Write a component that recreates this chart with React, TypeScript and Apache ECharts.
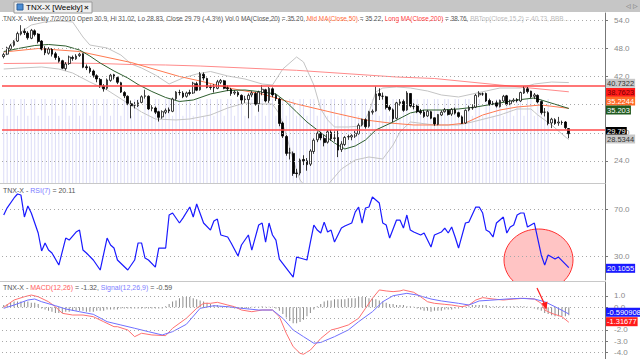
import React, { useEffect, useRef } from "react";
import * as echarts from "echarts";

// Weekly candles [open, close, low, high]
const ohlc: number[][] = [
  [46.3, 46.7, 45.9, 47.1], [46.8, 48.1, 46.6, 48.4], [48.0, 48.6, 47.7, 49.0], [48.7, 49.5, 48.4, 49.8],
  [49.6, 51.2, 49.4, 51.6], [51.1, 51.6, 50.8, 53.0], [51.7, 51.4, 50.9, 52.3], [51.3, 50.3, 49.9, 51.7],
  [50.2, 51.9, 50.0, 52.2], [51.8, 51.0, 50.6, 52.1], [51.1, 49.5, 49.1, 51.3], [49.6, 47.9, 47.6, 49.8],
  [48.0, 47.1, 46.6, 48.5], [47.0, 47.9, 46.7, 48.3], [47.8, 46.8, 46.3, 48.1], [46.9, 46.1, 45.6, 47.3],
  [46.0, 45.3, 45.0, 46.4], [45.4, 43.8, 43.6, 45.6], [43.7, 44.7, 43.3, 45.1], [44.8, 46.2, 44.5, 46.5],
  [46.1, 45.9, 45.4, 46.5], [45.8, 46.4, 45.6, 46.8], [46.5, 46.8, 46.2, 47.1], [46.9, 44.0, 43.8, 47.0],
  [44.1, 43.9, 43.4, 44.6], [43.8, 43.1, 42.7, 44.2], [43.2, 42.3, 41.8, 43.5], [42.2, 41.5, 40.8, 42.5],
  [41.4, 40.1, 39.6, 41.7], [40.0, 39.4, 38.8, 40.4], [39.5, 41.3, 39.2, 41.6], [41.2, 42.3, 40.9, 42.6],
  [42.4, 41.9, 41.4, 42.6], [41.8, 40.8, 40.4, 42.0], [40.7, 38.7, 38.5, 40.9], [38.6, 37.9, 37.4, 38.9],
  [37.8, 36.3, 35.9, 38.0], [36.2, 35.8, 33.1, 36.9], [35.9, 35.9, 35.2, 36.6], [35.8, 36.4, 35.5, 37.0],
  [36.5, 37.7, 36.3, 38.0], [37.8, 37.9, 37.3, 39.2], [37.8, 35.1, 34.9, 38.0], [35.2, 35.4, 34.6, 35.9],
  [35.3, 34.4, 34.0, 35.6], [34.5, 33.3, 32.4, 34.7], [33.4, 34.5, 33.0, 34.8], [34.4, 34.8, 34.0, 35.2],
  [34.9, 34.7, 34.2, 35.4], [34.6, 37.2, 34.4, 37.5], [37.3, 38.7, 37.0, 38.9], [38.6, 38.6, 38.0, 39.2],
  [38.5, 37.7, 37.4, 38.9], [37.8, 38.5, 37.5, 38.8], [38.6, 38.4, 38.0, 39.2], [38.5, 40.6, 38.3, 40.9],
  [40.5, 39.1, 38.9, 40.9], [39.2, 42.6, 39.0, 43.0], [42.5, 41.7, 41.2, 42.9], [41.6, 39.7, 39.5, 41.8],
  [39.8, 39.7, 39.2, 40.3], [39.7, 39.6, 38.6, 40.4], [39.5, 40.9, 39.3, 41.3], [40.8, 41.2, 40.4, 41.5],
  [41.1, 39.5, 39.3, 41.3], [39.6, 39.4, 38.9, 40.1], [39.3, 38.4, 37.9, 39.6], [38.5, 38.7, 38.1, 39.1],
  [38.6, 38.1, 37.7, 38.9], [38.0, 37.0, 36.2, 38.2], [37.1, 37.2, 36.4, 37.9], [37.1, 38.0, 33.1, 38.4],
  [38.1, 38.5, 37.6, 38.9], [38.4, 36.1, 35.8, 38.7], [36.2, 38.7, 34.5, 39.0], [38.6, 39.3, 38.0, 40.2],
  [39.2, 36.8, 36.5, 39.4], [36.9, 39.5, 36.4, 39.8], [39.4, 38.1, 37.6, 39.7], [38.0, 37.3, 36.8, 38.4],
  [37.2, 32.0, 31.4, 37.5], [32.1, 29.3, 28.9, 32.4], [29.2, 25.6, 25.1, 29.5], [25.7, 25.7, 24.3, 26.8],
  [25.6, 21.3, 20.8, 26.0], [21.4, 21.3, 20.4, 22.3], [21.4, 24.2, 20.9, 24.5], [24.3, 24.0, 23.1, 25.2],
  [24.0, 23.2, 21.9, 24.6], [23.3, 26.1, 22.9, 26.5], [26.0, 28.4, 25.5, 28.8], [28.5, 29.9, 28.0, 30.3],
  [29.8, 28.9, 28.4, 30.2], [28.8, 27.9, 27.1, 29.5], [28.0, 30.2, 27.7, 30.6], [30.1, 28.7, 28.3, 30.6],
  [28.8, 28.9, 28.1, 30.3], [29.0, 26.3, 24.8, 30.5], [26.4, 27.6, 25.9, 28.2], [27.5, 29.0, 27.2, 29.3],
  [29.1, 29.2, 28.5, 29.6], [29.1, 29.4, 28.4, 29.7], [29.3, 29.9, 28.9, 30.4], [29.8, 31.6, 29.6, 32.0],
  [31.7, 32.9, 31.4, 33.0], [32.8, 31.3, 30.9, 33.1], [31.4, 34.5, 31.1, 34.7], [34.4, 34.6, 33.9, 35.0],
  [34.7, 38.3, 34.5, 39.9], [38.4, 37.9, 37.0, 39.5], [37.8, 37.8, 37.1, 38.6], [37.7, 35.4, 35.0, 37.9],
  [35.5, 35.0, 34.6, 35.9], [34.9, 33.0, 32.3, 35.2], [33.1, 36.4, 32.9, 36.6], [36.3, 36.6, 35.8, 37.2],
  [36.7, 34.8, 34.5, 37.1], [34.9, 38.5, 34.7, 38.9], [38.4, 35.7, 35.4, 38.5], [35.6, 35.6, 35.0, 36.3],
  [35.7, 34.5, 34.2, 36.0], [34.6, 34.3, 33.9, 35.1], [34.4, 33.5, 33.2, 34.9], [33.6, 34.6, 33.4, 34.9],
  [34.5, 33.1, 32.9, 34.7], [33.2, 31.9, 31.5, 33.3], [31.8, 33.9, 31.6, 34.0], [33.8, 34.4, 33.6, 34.8],
  [34.5, 34.9, 34.3, 35.3], [34.8, 33.9, 33.7, 35.0], [34.0, 35.0, 33.6, 35.3], [34.9, 34.2, 33.9, 35.4],
  [34.3, 33.5, 33.2, 34.5], [33.4, 32.0, 31.9, 33.7], [32.1, 34.8, 31.9, 35.0], [34.9, 35.4, 34.6, 35.8],
  [35.3, 35.4, 34.9, 36.1], [35.5, 38.0, 35.3, 38.3], [38.1, 38.4, 37.6, 38.9], [38.3, 38.3, 37.9, 38.6],
  [38.4, 36.8, 36.6, 38.6], [36.9, 36.1, 35.8, 37.3], [36.2, 36.3, 35.9, 36.8], [36.4, 35.7, 35.4, 36.9],
  [35.6, 36.9, 35.4, 37.1], [36.8, 37.8, 36.6, 38.1], [37.9, 36.1, 35.8, 38.1], [36.2, 36.8, 35.9, 37.1],
  [36.8, 37.0, 36.5, 37.4], [37.1, 36.9, 36.5, 37.4], [36.8, 38.6, 36.6, 38.8], [38.5, 39.5, 38.3, 40.0],
  [39.4, 38.8, 38.4, 39.8], [38.9, 37.7, 37.4, 39.0], [37.8, 38.1, 37.2, 38.5], [38.0, 36.6, 36.3, 38.2],
  [36.7, 34.3, 33.9, 36.9], [34.4, 34.4, 33.5, 35.3], [34.3, 32.0, 31.6, 34.6], [32.1, 32.9, 31.0, 33.2],
  [32.8, 32.0, 31.7, 33.1], [32.1, 32.3, 31.5, 33.4], [32.2, 32.2, 31.7, 32.6], [32.3, 31.1, 30.8, 32.5],
  [30.9, 29.79, 28.83, 31.02],
];

// light "volume" stripes behind the candles
const volumeStripes: number[] = [
  10, 8, 10, 10, 8, 10, 10, 8, 10, 10, 8, 10, 10, 8, 10, 10, 8, 10, 10, 8,
  10, 10, 8, 10, 10, 8, 10, 10, 8, 10, 10, 8, 10, 10, 8, 10, 10, 8, 10, 10,
  8, 10, 10, 8, 10, 10, 8, 10, 10, 8, 10, 10, 8, 10, 10, 8, 10, 10, 8, 10,
  10, 8, 10, 10, 8, 10, 10, 8, 10, 10, 8, 10, 10, 8, 10, 10, 8, 10, 10, 8,
  10, 10, 8, 10, 10, 8, 10, 10, 8, 10, 10, 8, 10, 10, 8, 10, 10, 8, 10, 10,
  8, 10, 10, 8, 10, 10, 8, 10, 10, 8, 10, 10, 8, 10, 10, 8, 10, 10, 8, 10,
  10, 8, 10, 10, 8, 10, 10, 8, 10, 10, 8, 10, 10, 8, 10, 10, 8, 10, 10, 8,
  10, 10, 8, 10, 10, 8, 10, 10, 8, 10, 10, 8, 10, 10, 8, 10, 10, 8, 10,
];

// overlays: [week index, value]
const ma20 = [[0,47.37],[5,48.12],[9,48.65],[13,48.87],[18,48.55],[22,47.69],[25,46.41],[28,44.91],[32,43.21],[36,41.71],[39,40.32],[43,38.82],[47,37.54],[51,36.69],[55,37.01],[60,38.29],[65,39.04],[70,39.15],[75,38.72],[79,38.29],[82,36.58],[85,34.44],[88,32.31],[91,30.6],[96,27.82],[99,26.54],[102,27.18],[105,28.46],[108,30.6],[113,32.31],[118,34.23],[122,34.87],[127,34.87],[132,35.09],[137,35.51],[144,36.37],[149,37.01],[154,37.44],[156,37.01],[164,35.2]];
const ma50 = [[0,47.26],[10,48.01],[22,47.37],[37,45.02],[51,42.03],[57,41.07],[66,39.47],[75,38.29],[85,36.15],[96,34.23],[105,32.74],[112,32.09],[119,31.67],[129,31.67],[134,32.09],[139,33.8],[144,34.87],[149,35.51],[156,35.94],[164,35.22]];
const ma200 = [[0,44.81],[18,44.91],[28,44.81],[37,44.59],[47,44.49],[57,44.27],[85,43.35],[114,41.92],[125,41.6],[144,40.21],[164,38.76]];
const bbTop = [[0,46.2],[2,48.76],[5,51.54],[8,53.03],[12,53.68],[16,53.89],[20,53.68],[23,50.47],[25,48.76],[30,48.12],[34,46.62],[37,44.7],[40,43.85],[44,42.35],[48,40.43],[52,41.71],[56,42.56],[60,43.1],[65,42.14],[70,41.5],[75,40.43],[78,40.21],[81,43.63],[85,46.2],[87,45.13],[90,40.21],[92,35.09],[94,32.74],[96,31.24],[100,31.24],[104,31.45],[106,34.44],[108,38.72],[110,39.57],[114,39.79],[118,39.57],[123,38.93],[127,38.08],[132,37.65],[136,38.29],[140,38.93],[144,39.57],[150,39.57],[154,40.43],[159,40.85],[164,40.73]];
const bbBottom = [[0,43.63],[5,43.85],[11,44.06],[16,43.63],[20,42.78],[25,40.85],[30,39.15],[35,36.79],[40,34.44],[44,32.95],[50,32.74],[54,32.95],[60,33.8],[65,35.3],[70,36.37],[75,36.15],[78,36.15],[80,34.02],[82,29.53],[84,24.19],[86,19.91],[90,16.28],[94,18.85],[98,22.26],[102,24.19],[106,24.83],[110,24.4],[113,27.39],[115,30.17],[118,32.31],[125,31.67],[132,31.67],[136,32.31],[144,33.8],[149,35.09],[153,35.09],[155,33.8],[159,31.67],[162,29.74],[164,28.53]];
const trendLines = [40.1, 30.7];
const priceTicks = [24, 30, 36, 42, 48, 54];

const rsi = [[0,64.9],[1,71.0],[3,79.4],[4,82.8],[5,81.9],[6,63.2],[7,72.6],[8,66.6],[10,49.6],[11,34.3],[12,41.1],[13,35.1],[14,32.6],[16,22.3],[18,45.3],[19,43.6],[21,50.4],[22,52.1],[23,35.1],[24,32.6],[26,26.6],[28,18.1],[30,45.3],[31,39.4],[32,36.8],[33,26.6],[36,18.1],[38,26.6],[39,41.1],[40,41.1],[41,28.3],[42,26.6],[44,20.6],[45,36.8],[47,36.8],[48,64.9],[49,66.6],[51,58.1],[52,62.3],[54,71.7],[55,63.2],[56,74.3],[58,58.1],[60,52.1],[61,59.8],[62,61.5],[63,47.9],[65,46.2],[66,41.1],[68,30.0],[69,39.4],[71,47.9],[72,35.1],[74,56.4],[75,58.1],[76,41.9],[77,58.1],[78,47.9],[79,43.6],[80,27.4],[82,19.8],[84,12.1],[85,29.1],[86,28.3],[88,26.6],[89,41.9],[90,56.4],[91,52.1],[92,49.6],[93,58.9],[94,50.4],[95,52.1],[96,41.9],[98,53.8],[99,55.5],[101,58.1],[102,67.4],[103,71.7],[104,58.1],[105,70.9],[106,71.7],[107,80.2],[109,75.1],[110,58.1],[111,56.4],[112,45.3],[114,60.6],[115,60.6],[116,53.8],[117,64.9],[118,52.1],[119,50.4],[121,47.9],[122,49.6],[124,37.7],[125,47.9],[127,50.4],[128,53.8],[129,49.6],[130,54.7],[131,46.2],[132,36.8],[134,58.1],[135,58.9],[137,71.7],[138,71.7],[139,66.6],[140,52.1],[141,50.4],[142,46.2],[143,58.1],[145,63.2],[146,49.6],[147,54.7],[148,56.4],[149,64.9],[150,66.6],[151,66.6],[152,54.7],[154,58.1],[156,30.9],[157,22.3],[158,30.9],[160,27.4],[161,29.1],[164,20.11]];
const rsiTicks = [30, 70];

const macd = [[0,0.0],[3,0.64],[6,0.93],[8,1.08],[10,0.93],[13,0.49],[15,0.05],[17,-0.53],[20,-0.68],[23,-0.68],[26,-0.83],[29,-1.27],[32,-1.71],[33,-1.71],[36,-2.0],[38,-2.59],[40,-2.29],[43,-2.44],[47,-2.5],[49,-1.85],[53,-0.97],[56,-0.09],[58,0.35],[60,0.35],[62,0.44],[65,0.2],[67,0.05],[69,-0.24],[72,-0.39],[75,-0.24],[78,-0.24],[80,-0.83],[82,-2.29],[84,-3.47],[86,-4.06],[87,-4.14],[89,-3.77],[92,-2.75],[95,-2.0],[97,-1.85],[100,-1.56],[103,-0.97],[105,-0.09],[107,0.79],[109,1.53],[111,1.44],[113,1.38],[115,1.44],[116,1.53],[119,1.32],[121,0.93],[123,0.49],[125,0.35],[128,0.26],[130,0.2],[133,0.05],[135,0.2],[137,0.64],[139,0.85],[142,0.73],[145,0.64],[148,0.73],[151,0.79],[154,0.73],[156,0.35],[157,-0.24],[159,-0.53],[162,-0.83],[164,-1.32]];
const signal = [[0,-0.09],[3,0.2],[7,0.64],[9,0.73],[11,0.49],[15,0.14],[18,-0.15],[22,-0.39],[26,-0.62],[30,-1.27],[34,-1.56],[38,-1.85],[42,-2.15],[46,-2.44],[49,-2.15],[53,-1.5],[57,-0.09],[61,0.14],[65,0.05],[69,-0.09],[74,-0.24],[78,-0.24],[81,-0.97],[84,-2.0],[87,-2.59],[90,-3.17],[92,-3.1],[96,-2.59],[100,-2.0],[103,-1.27],[107,-0.39],[110,0.49],[113,1.02],[117,1.23],[120,1.08],[124,0.73],[127,0.56],[132,0.35],[135,0.2],[138,0.56],[142,0.64],[146,0.73],[150,0.79],[154,0.73],[157,0.49],[160,0.05],[164,-0.59]];
const macdHist: number[] = [
  0.2, 0.3, 0.4, 0.5, 0.5, 0.5, 0.5, 0.5, 0.4, 0.4, 0.3,
  -0.1, -0.2, -0.3, -0.4, -0.5, -0.5, -0.5, -0.4, -0.4, -0.3, -0.3, -0.3, -0.3, -0.4, -0.4, -0.4, -0.3, -0.3, -0.3, -0.2,
  -0.2, -0.2, -0.2, -0.1, -0.1, -0.1, -0.1, -0.1, -0.1, -0.1, -0.1, -0.1, -0.1, -0.1, -0.1, -0.1, 0.1,
  0.3, 0.5, 0.6, 0.8, 0.9, 0.9, 0.9, 0.8, 0.7, 0.6, 0.5, 0.4, 0.3, 0.2,
  0.2, 0.1, 0.1, 0.1, 0.05, -0.1, -0.1, -0.1, -0.1, -0.1, 0.05, 0.05, 0.05, 0.1, 0.05, 0.05, 0.05, -0.1,
  -0.3, -0.6, -0.9, -1.2, -1.4, -1.4, -1.3, -1.1, -0.8, -0.5,
  -0.2, 0.1, 0.3, 0.5, 0.6, 0.6, 0.7, 0.7, 0.7, 0.7, 0.8, 0.8, 0.8, 0.9, 0.9, 0.9, 0.8, 0.8, 0.7, 0.6,
  0.5, 0.4, 0.3, 0.3, 0.2, 0.2, 0.2, 0.1, 0.1, 0.05, -0.1, -0.2,
  -0.3, -0.3, -0.4, -0.3, -0.3, -0.3, -0.2, -0.2, -0.2, -0.1, -0.1, 0.05, 0.05,
  0.1, 0.2, 0.2, 0.2, 0.2, 0.2, 0.1, 0.1, 0.1, 0.1, 0.1, 0.1, 0.1, 0.1, 0.1, 0.1, 0.1, 0.05, 0.05, -0.1, -0.2,
  -0.3, -0.5, -0.6, -0.7, -0.8, -0.8, -0.8, -0.8, -0.7,
];
const macdTicks = [-4, -3, -2, -1, 0, 1];
// -1.0 is hidden behind the value boxes in the reference
const macdLabels = [-4, -3, -2, 0, 1];

const categoryCount = 175;
const FONT = "Liberation Sans, Arial, sans-serif";

export default function App() {
  const ref = useRef<HTMLDivElement>(null);
  useEffect(() => {
    if (!ref.current) return;
    const chart = echarts.init(ref.current, undefined, { renderer: "svg" });
    const categories = Array.from({ length: categoryCount }, (_, i) => String(i));
    const dotted = { color: "#a8a8a8", type: [1, 3] as any, width: 1 };
    const gridMark = (vals: number[]) => ({
      silent: true,
      symbol: ["none", "none"],
      label: { show: false },
      lineStyle: dotted,
      data: vals.map((v) => ({ yAxis: v })),
    });
    const yAxisBase = (gridIndex: number, min: number, max: number, ticks: number[], labels: number[]) => ({
      type: "value",
      gridIndex,
      position: "right",
      min,
      max,
      splitLine: { show: false },
      axisLine: { show: true, lineStyle: { color: "#777777" } },
      axisTick: { show: true, length: 3, customValues: ticks, lineStyle: { color: "#777777" } },
      axisLabel: {
        customValues: labels,
        formatter: (v: number) => v.toFixed(1),
        fontSize: 8,
        color: "#8a8a8a",
        fontFamily: FONT,
        margin: 9,
      },
    });
    const lineSeries = (data: number[][], color: string, xi: number, yi: number, width = 1, z = 3) => ({
      type: "line",
      xAxisIndex: xi,
      yAxisIndex: yi,
      data,
      showSymbol: false,
      symbol: "none",
      lineStyle: { color, width },
      z,
    });
    const box = (text: string, y: number, bg: string, fg: string) => ({
      type: "text",
      x: 606,
      y,
      z: 20,
      style: {
        text,
        fill: fg,
        font: `7.5px ${FONT}`,
        verticalAlign: "middle",
        align: "left",
        backgroundColor: bg,
        padding: [1, 1, 0, 1],
      },
    });

    chart.setOption({
      animation: false,
      backgroundColor: "#ffffff",
      grid: [
        { left: 2, right: 35, top: 13, height: 170 },
        { left: 2, right: 35, top: 184, height: 96 },
        { left: 2, right: 35, top: 282, height: 77 },
      ],
      xAxis: [0, 1, 2].map((g) => ({
        type: "category",
        gridIndex: g,
        data: categories,
        boundaryGap: true,
        show: false,
      })),
      yAxis: [
        yAxisBase(0, 19.27, 55.6, priceTicks, priceTicks),
        { type: "value", gridIndex: 0, min: 0, max: 20.24, show: false },
        yAxisBase(1, 9.6, 91.3, rsiTicks, rsiTicks),
        yAxisBase(2, -4.56, 2.23, macdTicks, macdLabels),
      ],
      series: [
        {
          type: "bar",
          xAxisIndex: 0,
          yAxisIndex: 1,
          data: volumeStripes,
          barWidth: 1,
          itemStyle: { color: "#dcdcf7" },
          silent: true,
          z: 1,
        },
        {
          type: "candlestick",
          xAxisIndex: 0,
          yAxisIndex: 0,
          data: ohlc,
          barWidth: 2.2,
          itemStyle: {
            color: "#ffffff",
            color0: "#000000",
            borderColor: "#111111",
            borderColor0: "#000000",
            borderWidth: 0.8,
          },
          markLine: {
            silent: true,
            symbol: ["none", "none"],
            label: { show: false },
            data: [
              ...priceTicks.map((v) => ({ yAxis: v, lineStyle: dotted })),
              ...trendLines.map((v) => ({ yAxis: v, lineStyle: { color: "#ff4a4a", width: 1.5, type: "solid" } })),
            ],
          },
          z: 4,
        },
        lineSeries(bbTop, "#c4c4c4", 0, 0),
        lineSeries(bbBottom, "#c4c4c4", 0, 0),
        lineSeries(ma200, "#ff8a8a", 0, 0),
        lineSeries(ma50, "#ff7a50", 0, 0),
        lineSeries(ma20, "#2f5f2f", 0, 0),
        { ...lineSeries(rsi, "#1a1aff", 1, 2, 1.2, 5), markLine: gridMark(rsiTicks) },
        {
          type: "bar",
          xAxisIndex: 2,
          yAxisIndex: 3,
          data: macdHist,
          barWidth: 1,
          itemStyle: { color: "#8c8c8c" },
          markLine: gridMark(macdTicks),
          z: 2,
        },
        lineSeries(macd, "#ff7070", 2, 3, 1, 4),
        lineSeries(signal, "#7070ff", 2, 3, 1, 4),
      ],
      graphic: [
        { type: "rect", shape: { x: 0, y: 0, width: 640, height: 12 }, style: { fill: "#c6c6c6" }, z: 0 },
        { type: "rect", shape: { x: 14, y: 2, width: 78, height: 11 }, style: { fill: "#eeeeee", stroke: "#9a9a9a", lineWidth: 1 }, z: 1 },
        { type: "rect", shape: { x: 17, y: 4, width: 6, height: 6 }, style: { fill: "#4c8ed6", stroke: "#2a5f9a" }, z: 2 },
        { type: "text", x: 26, y: 7.5, style: { text: "TNX-X [Weekly]", fill: "#000", font: `8px ${FONT}`, verticalAlign: "middle" }, z: 2 },
        { type: "text", x: 84, y: 7.5, style: { text: "×", fill: "#222", font: `bold 8px ${FONT}`, verticalAlign: "middle" }, z: 2 },
        { type: "text", x: 626, y: 6, style: { text: "◁ ▷", fill: "#666", font: `6px ${FONT}`, verticalAlign: "middle" }, z: 2 },
        { type: "line", shape: { x1: 0, y1: 183.5, x2: 605, y2: 183.5 }, style: { stroke: "#c8c8c8", lineWidth: 1 }, z: 1 },
        { type: "line", shape: { x1: 0, y1: 281.5, x2: 605, y2: 281.5 }, style: { stroke: "#c8c8c8", lineWidth: 1 }, z: 1 },
        {
          type: "text",
          x: 3,
          y: 18,
          z: 10,
          style: {
            text:
              "{a|TNX-X - Weekly 7/2/2010 Open 30.9, Hi 31.02, Lo 28.83, Close 29.79 (-4.3%) Vol 0 MA(Close,20) = 35.20, }{b|Mid MA(Close,50)}{a| = 35.22, }{c|Long MA(Close,200)}{a| = 38.76, }{d|BBTop(Close,15,2) = 40.73, BBB...}",
            verticalAlign: "middle",
            rich: {
              a: { fill: "#555555", font: `6.4px ${FONT}` },
              b: { fill: "#ff6a3a", font: `6.4px ${FONT}` },
              c: { fill: "#ff4040", font: `6.4px ${FONT}` },
              d: { fill: "#bbbbbb", font: `6.4px ${FONT}` },
            },
          },
        },
        {
          type: "text",
          x: 3,
          y: 190,
          z: 10,
          style: {
            text: "{a|TNX-X - }{b|RSI(7)}{a| = 20.11}",
            verticalAlign: "middle",
            rich: {
              a: { fill: "#555555", font: `7px ${FONT}` },
              b: { fill: "#7a7aff", font: `7px ${FONT}` },
            },
          },
        },
        {
          type: "text",
          x: 3,
          y: 287,
          z: 10,
          style: {
            text: "{a|TNX-X - }{b|MACD(12,26)}{a| = -1.32, }{c|Signal(12,26,9)}{a| = -0.59}",
            verticalAlign: "middle",
            rich: {
              a: { fill: "#555555", font: `7px ${FONT}` },
              b: { fill: "#ff6060", font: `7px ${FONT}` },
              c: { fill: "#8080ff", font: `7px ${FONT}` },
            },
          },
        },
        { type: "ellipse", shape: { cx: 538.5, cy: 260, rx: 34.5, ry: 31 }, style: { fill: "#ffc4c4", stroke: "#ff3030", lineWidth: 1 }, z: 0 },
        { type: "rect", shape: { x: 500, y: 282, width: 80, height: 10 }, style: { fill: "#ffffff" }, z: 1 },
        { type: "line", shape: { x1: 537, y1: 288, x2: 545, y2: 305 }, style: { stroke: "#ff1a1a", lineWidth: 1.2 }, z: 12 },
        { type: "polygon", shape: { points: [[546.5, 310], [541.5, 303.5], [547.5, 301.5]] }, style: { fill: "#ff1a1a" }, z: 12 },
        box("40.7322", 83.3, "#c8c8c8", "#333333"),
        box("38.7623", 92.5, "#ff1a1a", "#7a0000"),
        box("35.2244", 101, "#ff6a28", "#ffffff"),
        box("35.203", 110, "#1f5a1f", "#ffffff"),
        box("29.79", 131.5, "#000000", "#ffffff"),
        box("28.5344", 139, "#c8c8c8", "#333333"),
        box("20.1055", 268.3, "#1a1aff", "#ffffff"),
        box("-0.590908", 312.3, "#1a1aff", "#ffffff"),
        box("-1.31677", 321.7, "#ff1a1a", "#ffffff"),
      ],
    });
    return () => chart.dispose();
  }, []);
  return <div ref={ref} style={{ width: 640, height: 359, position: "absolute", left: 0, top: 0 }} />;
}
